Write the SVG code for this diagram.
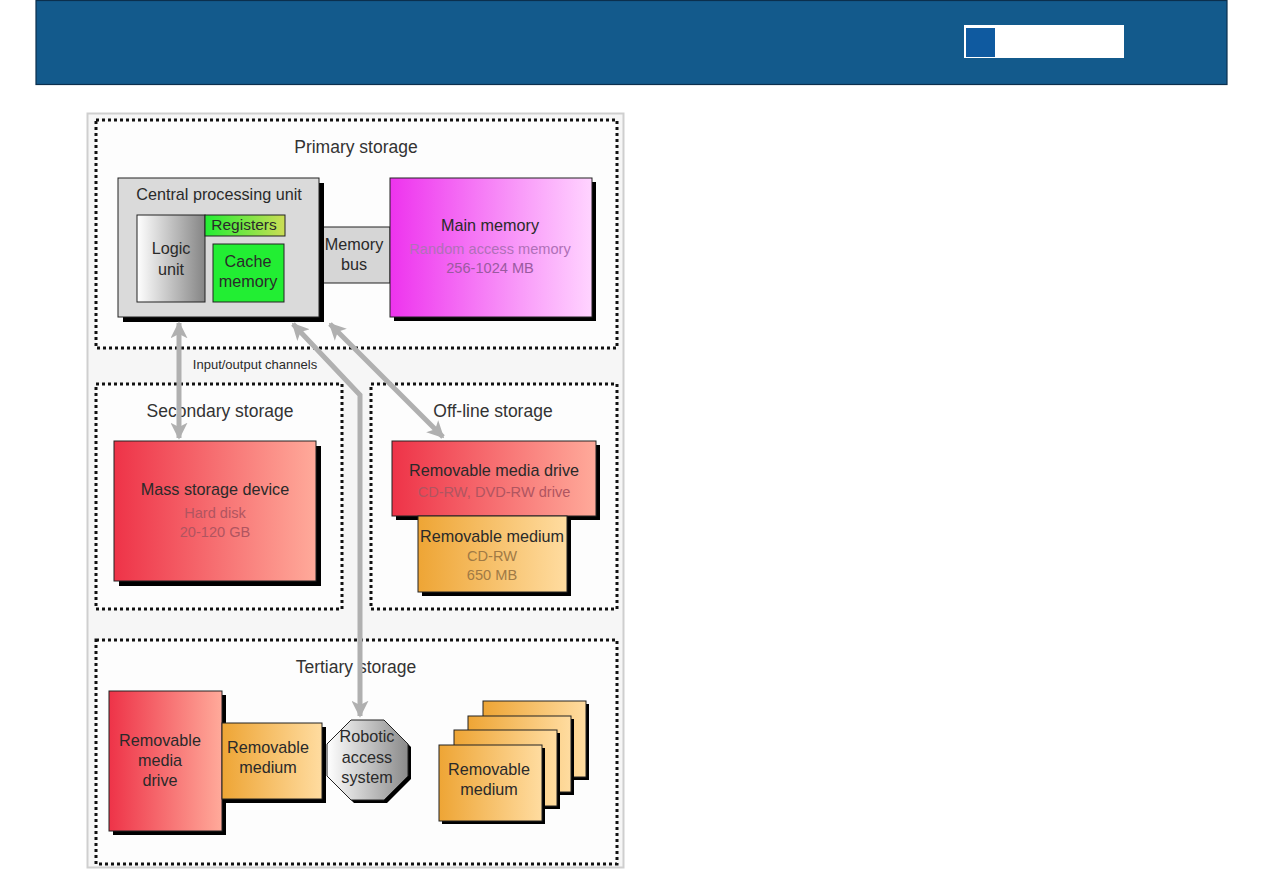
<svg xmlns="http://www.w3.org/2000/svg" width="1263" height="893" viewBox="0 0 1263 893">
<defs>
<linearGradient id="gLogic" x1="0" x2="1" y1="0" y2="0"><stop offset="0" stop-color="#ffffff"/><stop offset="1" stop-color="#858585"/></linearGradient>
<linearGradient id="gReg" x1="0" x2="1" y1="0" y2="0"><stop offset="0" stop-color="#22ee33"/><stop offset="1" stop-color="#ccdd55"/></linearGradient>
<linearGradient id="gMain" x1="0" x2="1" y1="0" y2="0"><stop offset="0" stop-color="#ee33ee"/><stop offset="1" stop-color="#ffd4ff"/></linearGradient>
<linearGradient id="gRed" x1="0" x2="1" y1="0" y2="0"><stop offset="0" stop-color="#ee3348"/><stop offset="1" stop-color="#ffaa9a"/></linearGradient>
<linearGradient id="gOrange" x1="0" x2="1" y1="0" y2="0"><stop offset="0" stop-color="#eea535"/><stop offset="1" stop-color="#ffdca0"/></linearGradient>
<linearGradient id="gOct" x1="0" x2="1" y1="0" y2="0"><stop offset="0" stop-color="#ffffff"/><stop offset="1" stop-color="#8a8a8a"/></linearGradient>
<marker id="ah" viewBox="0 0 10 10" refX="9" refY="5" markerWidth="3.4" markerHeight="3.4" orient="auto-start-reverse" markerUnits="strokeWidth">
<path d="M0,0 L10,5 L0,10 L2.5,5 Z" fill="#b0b0b0"/>
</marker>
<style>
.lbl{font-family:"Liberation Sans",Arial,sans-serif;fill:#2a2a2a;text-anchor:middle}
.t16{font-size:17.5px;fill:#333}
.t15{font-size:16.2px}
.t14{font-size:15.5px}
.t12{font-size:13px}
.sub{font-size:14.6px}
.dot{fill:#fdfdfd;stroke:#111;stroke-width:3;stroke-dasharray:3 3}
.box{stroke:#222;stroke-width:1}
.sh{fill:#000}
.conn{fill:none;stroke:#b0b0b0;stroke-width:5;stroke-linejoin:miter}
</style>
</defs>
<g id="header">
<rect x="36" y="0.5" width="1191" height="84" fill="#135a8c" stroke="#0b2f4d" stroke-width="1.2"/>
<rect x="964" y="25" width="160" height="33" fill="#ffffff"/>
<rect x="966" y="28" width="29" height="29" fill="#0f5aa0"/>
</g>
<g id="frame">
<rect x="87.5" y="113.5" width="536" height="754" fill="#f6f6f6" stroke="#cfcfcf" stroke-width="2"/>
</g>
<g id="primary">
<rect class="dot" x="96" y="120" width="521" height="228"/>
<text class="lbl t16" x="356" y="153">Primary storage</text>
</g>
<g id="secondary">
<rect class="dot" x="96" y="384" width="246" height="225"/>
<text class="lbl t16" x="220" y="417">Secondary storage</text>
</g>
<g id="offline">
<rect class="dot" x="371" y="384" width="246" height="225"/>
<text class="lbl t16" x="493" y="417">Off-line storage</text>
</g>
<g id="tertiary">
<rect class="dot" x="96" y="640" width="521" height="224"/>
<text class="lbl t16" x="356" y="673">Tertiary storage</text>
</g>
<g id="memory-bus">
<rect class="box" x="318" y="227" width="72" height="56" fill="#d6d6d6"/>
<text class="lbl t15" x="354" y="250">Memory</text>
<text class="lbl t15" x="354" y="270">bus</text>
</g>
<g id="cpu">
<rect class="sh" x="123" y="183" width="201" height="139"/>
<rect class="box" x="118" y="178" width="201" height="139" fill="#dadada"/>
<text class="lbl t15" x="219" y="200">Central processing unit</text>
</g>
<g id="logic-unit">
<rect class="box" x="137" y="215" width="68" height="87" fill="url(#gLogic)"/>
<text class="lbl t15" x="171" y="254">Logic</text>
<text class="lbl t15" x="171" y="275">unit</text>
</g>
<g id="registers">
<rect class="box" x="205" y="215" width="80" height="21" fill="url(#gReg)"/>
<text class="lbl t14" x="244" y="230">Registers</text>
</g>
<g id="cache-memory">
<rect class="box" x="213" y="244" width="71" height="58" fill="#22ee33"/>
<text class="lbl t15" x="248" y="267">Cache</text>
<text class="lbl t15" x="248" y="287">memory</text>
</g>
<g id="main-memory">
<rect class="sh" x="394" y="182" width="202" height="139"/>
<rect class="box" x="390" y="178" width="202" height="139" fill="url(#gMain)"/>
<text class="lbl t15" x="490" y="231">Main memory</text>
<text class="lbl sub" x="490" y="254" style="fill:#b070b8">Random access memory</text>
<text class="lbl sub" x="490" y="273" style="fill:#9a5aa0">256-1024 MB</text>
</g>
<g id="mass-storage">
<rect class="sh" x="119" y="446" width="202" height="140"/>
<rect class="box" x="114" y="441" width="202" height="140" fill="url(#gRed)"/>
<text class="lbl t15" x="215" y="495">Mass storage device</text>
<text class="lbl sub" x="215" y="518" style="fill:#b05560">Hard disk</text>
<text class="lbl sub" x="215" y="537" style="fill:#b05560">20-120 GB</text>
</g>
<g id="offline-drive">
<rect class="sh" x="396" y="445" width="204" height="75"/>
<rect class="box" x="392" y="441" width="204" height="75" fill="url(#gRed)"/>
<text class="lbl t15" x="494" y="476">Removable media drive</text>
<text class="lbl sub" x="494" y="497" style="fill:#b05560">CD-RW, DVD-RW drive</text>
</g>
<g id="offline-medium">
<rect class="sh" x="422" y="520" width="149" height="76"/>
<rect class="box" x="418" y="516" width="149" height="76" fill="url(#gOrange)"/>
<text class="lbl t15" x="492" y="542">Removable medium</text>
<text class="lbl sub" x="492" y="561" style="fill:#a07a45">CD-RW</text>
<text class="lbl sub" x="492" y="580" style="fill:#a07a45">650 MB</text>
</g>
<g id="tertiary-drive">
<rect class="sh" x="113" y="695" width="113" height="140"/>
<rect class="box" x="109" y="691" width="113" height="140" fill="url(#gRed)"/>
<text class="lbl t15" x="160" y="746">Removable</text>
<text class="lbl t15" x="160" y="766">media</text>
<text class="lbl t15" x="160" y="786">drive</text>
</g>
<g id="tertiary-medium">
<rect class="sh" x="226" y="727" width="100" height="76"/>
<rect class="box" x="222" y="723" width="100" height="76" fill="url(#gOrange)"/>
<text class="lbl t15" x="268" y="753">Removable</text>
<text class="lbl t15" x="268" y="773">medium</text>
</g>
<g id="robotic-access">
<polygon points="354,723 387,723 411,747 411,779 387,803 354,803 330,779 330,747" fill="#000"/>
<polygon class="box" points="351,720 384,720 408,744 408,776 384,800 351,800 327,776 327,744" fill="url(#gOct)"/>
<text class="lbl t15" x="367" y="742">Robotic</text>
<text class="lbl t15" x="367" y="763">access</text>
<text class="lbl t15" x="367" y="783">system</text>
</g>
<g id="media-stack">
<rect class="sh" x="486" y="704" width="103" height="76"/>
<rect class="box" x="483" y="701" width="103" height="76" fill="url(#gOrange)"/>
<rect class="sh" x="471" y="719" width="103" height="76"/>
<rect class="box" x="468" y="716" width="103" height="76" fill="url(#gOrange)"/>
<rect class="sh" x="457" y="733" width="103" height="76"/>
<rect class="box" x="454" y="730" width="103" height="76" fill="url(#gOrange)"/>
<rect class="sh" x="442" y="748" width="103" height="76"/>
<rect class="box" x="439" y="745" width="103" height="76" fill="url(#gOrange)"/>
<text class="lbl t15" x="489" y="775">Removable</text>
<text class="lbl t15" x="489" y="795">medium</text>
</g>
<g id="connectors">
<line class="conn" x1="179" y1="323" x2="179" y2="438" marker-start="url(#ah)" marker-end="url(#ah)"/>
<polyline class="conn" points="293,324 360,395 360,716" marker-start="url(#ah)" marker-end="url(#ah)"/>
<line class="conn" x1="330" y1="324" x2="443" y2="437" marker-start="url(#ah)" marker-end="url(#ah)"/>
<text class="lbl t12" x="255" y="369">Input/output channels</text>
</g>
</svg>
